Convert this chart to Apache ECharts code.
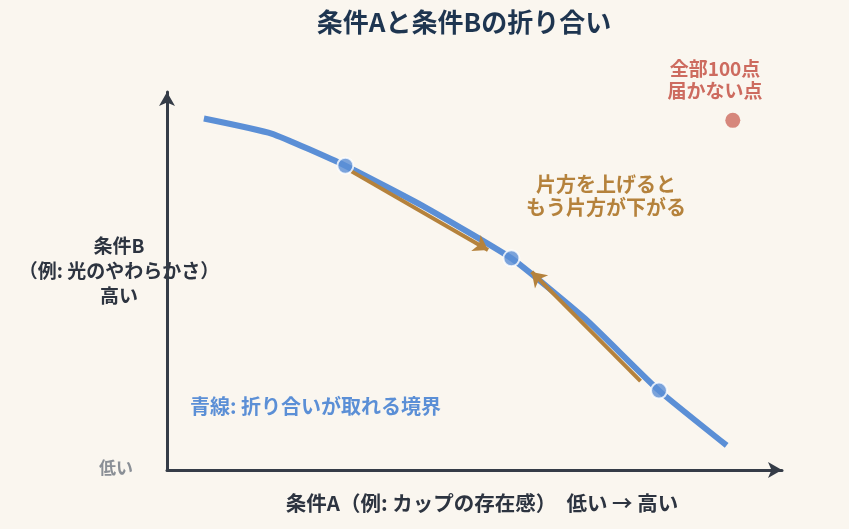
<!DOCTYPE html>
<html>
<head>
<meta charset="utf-8">
<script src="https://cdn.jsdelivr.net/npm/echarts@6/dist/echarts.min.js"></script>
<style>
  html, body { margin: 0; padding: 0; background: #faf6ef; }
  #main { width: 849px; height: 529px; }
</style>
</head>
<body>
<div id="main"></div>
<script>
// 境界線（0-100 の相対スケール）
const frontier = [[6, 93], [17, 89], [29, 80.5], [42, 69.5], [56, 56], [68, 40], [80, 21], [91, 6.5]];
const frontierDots = [[29, 80.5], [56, 56], [80, 21]];
const outsidePoint = [[92, 92.5]];
// 矢印 [始点, 終点]
const tradeArrows = [
  [[30, 79], [52.2, 58.2]],
  [[77, 23.5], [59.3, 52.4]]
];

const font = '"Noto Sans CJK JP", "Noto Sans", sans-serif';
const chart = echarts.init(document.getElementById('main'));

chart.setOption({
  backgroundColor: '#faf6ef',
  animation: false,
  grid: { left: 167, right: 67, top: 92, bottom: 59 },
  xAxis: {
    type: 'value', min: 0, max: 100,
    axisLine: { lineStyle: { color: '#353c47', width: 3 }, symbol: ['none', 'arrow'], symbolSize: [12, 14] },
    axisTick: { show: false }, axisLabel: { show: false }, splitLine: { show: false }
  },
  yAxis: {
    type: 'value', min: 0, max: 100,
    axisLine: { show: true, lineStyle: { color: '#353c47', width: 3 }, symbol: ['none', 'arrow'], symbolSize: [12, 14] },
    axisTick: { show: false }, axisLabel: { show: false }, splitLine: { show: false }
  },
  series: [
    {
      type: 'line',
      data: frontier,
      smooth: 0.15,
      symbol: 'none',
      lineStyle: { color: '#5b8fd6', width: 6 },
      z: 2
    },
    {
      type: 'lines',
      coordinateSystem: 'cartesian2d',
      data: tradeArrows.map(a => ({ coords: a })),
      symbol: ['none', 'arrow'],
      symbolSize: 14,
      lineStyle: { color: '#b5823c', width: 4, opacity: 1 },
      z: 3
    },
    {
      type: 'scatter',
      data: frontierDots,
      symbolSize: 16,
      itemStyle: { color: '#5b8fd6', borderColor: '#ffffff', borderWidth: 2 },
      z: 4
    },
    {
      type: 'scatter',
      data: outsidePoint,
      symbolSize: 15,
      itemStyle: { color: '#cd6b5f' },
      z: 4
    }
  ],
  graphic: [
    {
      type: 'text', x: 464, y: 22,
      style: {
        text: '条件Aと条件Bの折り合い',
        align: 'center', verticalAlign: 'middle',
        font: 'bold 26px ' + font, fill: '#1e3550'
      }
    },
    {
      type: 'text', x: 119, y: 271,
      style: {
        text: '条件B\n（例: 光のやわらかさ）\n高い',
        align: 'center', verticalAlign: 'middle', lineHeight: 25,
        font: 'bold 19px ' + font, fill: '#2d3440'
      }
    },
    {
      type: 'text', x: 116, y: 468,
      style: { text: '低い', align: 'center', verticalAlign: 'middle', font: 'bold 17px ' + font, fill: '#8a8f96' }
    },
    {
      type: 'text', x: 482, y: 503,
      style: {
        text: '条件A（例: カップの存在感）　低い → 高い',
        align: 'center', verticalAlign: 'middle', font: 'bold 20.5px ' + font, fill: '#2d3440'
      }
    },
    {
      type: 'text', x: 190, y: 406,
      style: { text: '青線: 折り合いが取れる境界', verticalAlign: 'middle', font: 'bold 20px ' + font, fill: '#5b8fd6' }
    },
    {
      type: 'text', x: 606, y: 195.5,
      style: {
        text: '片方を上げると\nもう片方が下がる',
        align: 'center', verticalAlign: 'middle', lineHeight: 23,
        font: 'bold 20px ' + font, fill: '#b5823c'
      }
    },
    {
      type: 'text', x: 715, y: 80,
      style: {
        text: '全部100点\n届かない点',
        align: 'center', verticalAlign: 'middle', lineHeight: 22,
        font: 'bold 19px ' + font, fill: '#cd6b5f'
      }
    }
  ]
});
</script>
</body>
</html>
